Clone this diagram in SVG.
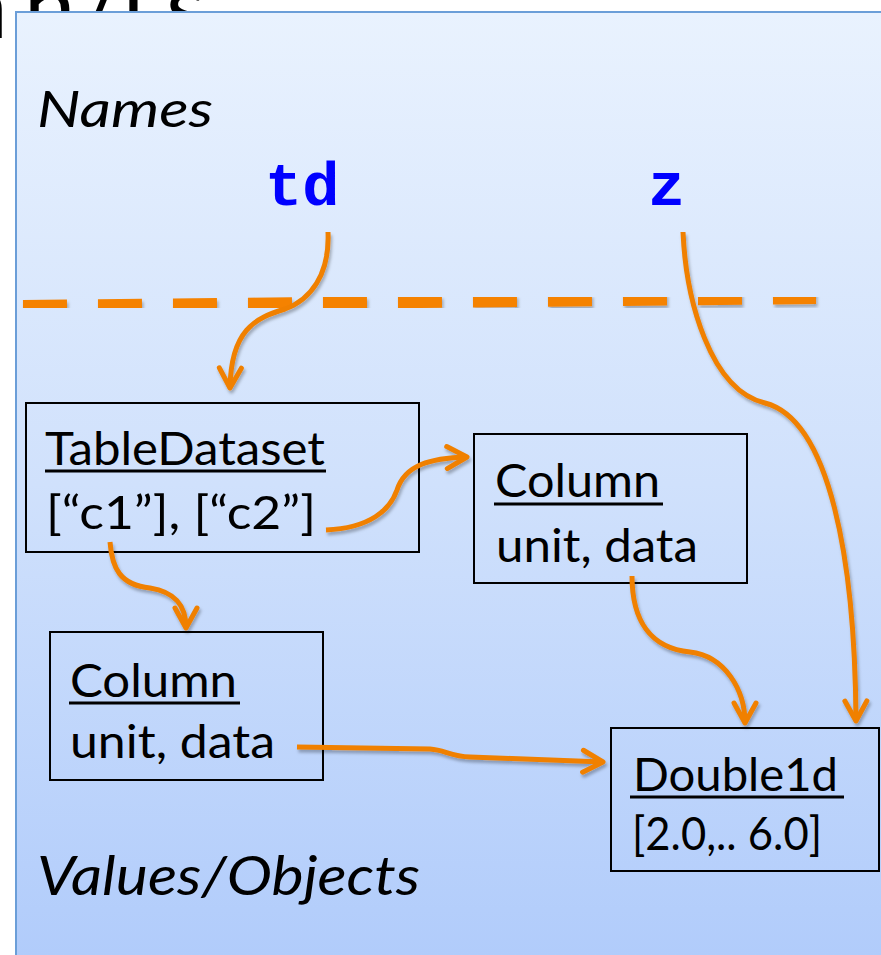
<svg xmlns="http://www.w3.org/2000/svg" width="881" height="955" viewBox="0 0 881 955">
  <defs>
    <linearGradient id="bg" x1="0" y1="12" x2="0" y2="955" gradientUnits="userSpaceOnUse">
      <stop offset="0" stop-color="#e9f2fe"/>
      <stop offset="0.5" stop-color="#d0e1fc"/>
      <stop offset="1" stop-color="#b1ccfb"/>
    </linearGradient>
    <filter id="sh" x="-10%" y="-10%" width="120%" height="130%">
      <feDropShadow dx="1.5" dy="3" stdDeviation="1.8" flood-color="#000" flood-opacity="0.28"/>
    </filter>
    <marker id="ah" markerUnits="userSpaceOnUse" markerWidth="40" markerHeight="40" viewBox="-30 -20 40 40" refX="0" refY="0" orient="auto">
      <path d="M-20,-11 L0,0 L-20,11" fill="none" stroke="#f08000" stroke-width="5" stroke-linecap="round" stroke-linejoin="round"/>
    </marker>
    <style>
      .lbl { font-family: Lato, "Open Sans", sans-serif; font-size: 46px; fill: #000; }
      .ital { font-family: Lato, "Open Sans", sans-serif; font-style: italic; fill: #000; }
      .name { font-family: "Liberation Mono", "DejaVu Sans Mono", monospace; font-weight: bold; font-size: 62px; fill: #0000ff; }
      .box { fill: none; stroke: #000; stroke-width: 2; }
      .ul { stroke: #000; stroke-width: 3; }
      .conn { fill: none; stroke: #f08000; stroke-width: 5; stroke-linecap: butt; marker-end: url(#ah); }
    </style>
  </defs>

  <rect x="0" y="0" width="881" height="955" fill="#ffffff"/>

  <!-- title fragment, mostly hidden behind the panel -->
  <text font-family="Lato, 'Open Sans', sans-serif" font-size="92" fill="#000" y="38"><tspan x="-38">a</tspan><tspan x="24">n</tspan><tspan x="80">/</tspan><tspan x="120">t</tspan><tspan x="166">s</tspan></text>

  <!-- panel -->
  <rect x="16" y="12" width="880" height="960" fill="url(#bg)" stroke="#6b9ed8" stroke-width="2"/>

  <text class="ital" x="37" y="127" font-size="50" textLength="176" lengthAdjust="spacingAndGlyphs">Names</text>
  <text class="ital" x="37" y="895" font-size="54" textLength="383" lengthAdjust="spacingAndGlyphs">Values/Objects</text>

  <!-- dashed separator -->
  <g id="separator" filter="url(#sh)">
    <line x1="23" y1="306" x2="816" y2="298" stroke="#f58200" stroke-width="12" stroke-dasharray="44 31"/>
  </g>

  <g id="name-td">
    <text class="name" x="265" y="205">td</text>
  </g>
  <g id="name-z">
    <text class="name" x="648" y="205">z</text>
  </g>

  <g id="node-tabledataset">
    <rect class="box" x="26" y="403" width="393" height="149"/>
    <text class="lbl" x="45" y="465" textLength="280" lengthAdjust="spacingAndGlyphs">TableDataset</text>
    <line class="ul" x1="45" y1="471" x2="326" y2="471"/>
    <text class="lbl" x="46" y="529" textLength="270" lengthAdjust="spacingAndGlyphs">[“c1”], [“c2”]</text>
  </g>

  <g id="node-column-right">
    <rect class="box" x="474" y="434" width="273" height="149"/>
    <text class="lbl" x="495" y="497" textLength="165" lengthAdjust="spacingAndGlyphs">Column</text>
    <line class="ul" x1="494" y1="504" x2="663" y2="504"/>
    <text class="lbl" x="496" y="562" textLength="202" lengthAdjust="spacingAndGlyphs">unit, data</text>
  </g>

  <g id="node-column-left">
    <rect class="box" x="50" y="632" width="273" height="148"/>
    <text class="lbl" x="70" y="697" textLength="167" lengthAdjust="spacingAndGlyphs">Column</text>
    <line class="ul" x1="69" y1="703" x2="240" y2="703"/>
    <text class="lbl" x="70" y="758" textLength="205" lengthAdjust="spacingAndGlyphs">unit, data</text>
  </g>

  <g id="node-double1d">
    <rect class="box" x="611" y="728" width="268" height="143"/>
    <text class="lbl" x="633" y="791" textLength="205" lengthAdjust="spacingAndGlyphs">Double1d</text>
    <line class="ul" x1="630" y1="797" x2="844" y2="797"/>
    <text class="lbl" x="632" y="850" font-size="42" textLength="190" lengthAdjust="spacingAndGlyphs">[2.0,.. 6.0]</text>
  </g>

  <g id="connectors" filter="url(#sh)">
    <path class="conn" d="M328,232 C330,275 310,300 285,309 C255,318 231,330 230,388"/>
    <path class="conn" d="M683,232 C686,300 710,390 765,403 C830,420 855,560 856,721"/>
    <path class="conn" d="M326,530 C370,528 390,510 397,490 C405,465 430,458 467,457"/>
    <path class="conn" d="M110,542 C112,568 120,585 150,588 C175,592 186,605 186,628"/>
    <path class="conn" d="M632,576 C632,620 650,648 690,652 C725,656 745,690 745,723"/>
    <path class="conn" d="M297,747 L430,749 C445,750 450,756 470,757 L603,762"/>
  </g>
</svg>
